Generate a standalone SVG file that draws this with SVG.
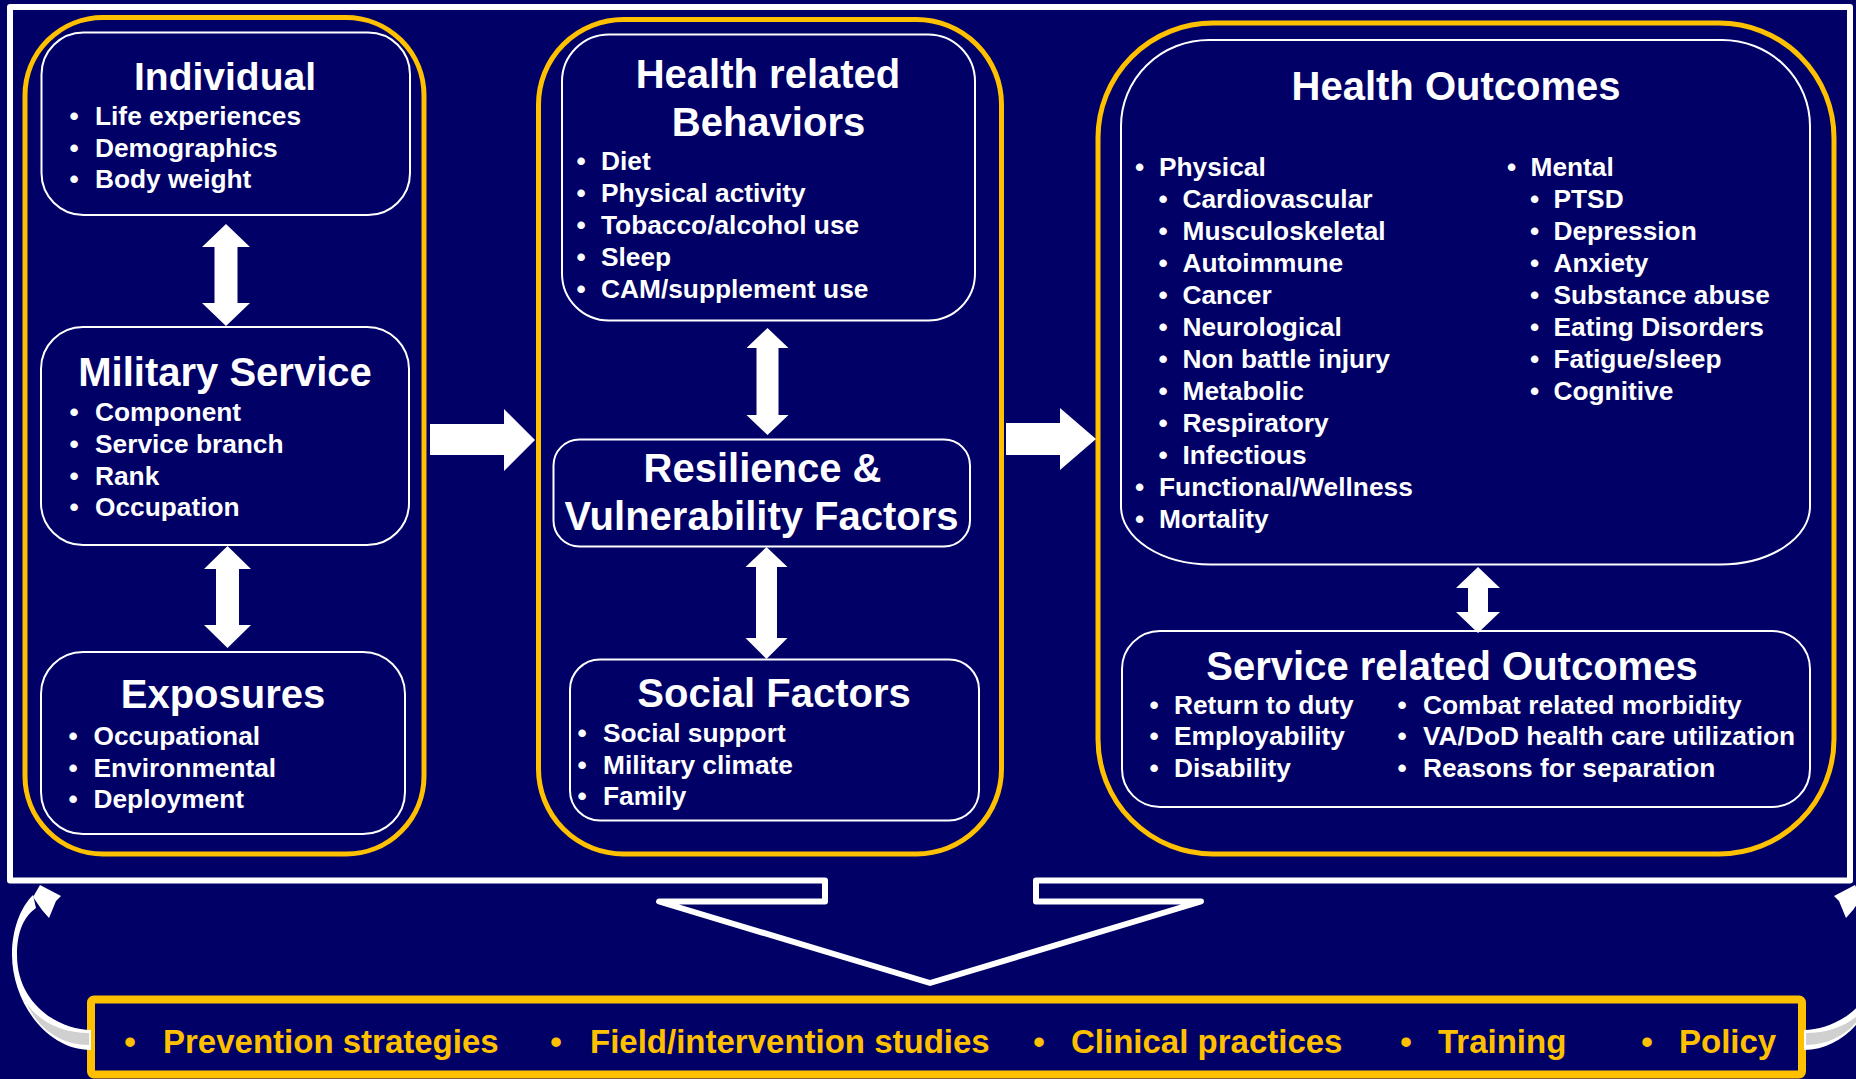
<svg xmlns="http://www.w3.org/2000/svg" width="1856" height="1079" viewBox="0 0 1856 1079">
<style>
.col{fill:none;stroke:#FFC000;stroke-width:5}
.box{fill:none;stroke:#FFFFFF;stroke-width:2}
text{font-family:"Liberation Sans",Arial,sans-serif;font-weight:bold;fill:#FFFFFF}
.h{font-size:40px;text-anchor:middle}
.i{font-size:26.3px}
.b{font-size:26.3px;text-anchor:middle}
.y{font-size:33px;fill:#FFC000}
.yb{font-size:33px;fill:#FFC000;text-anchor:middle}
.arr{fill:#FFFFFF}
</style>
<defs>
<g id="curved">
<path d="M33,895 C20,908 12,930 12,955 C12,1000 45,1050 91,1050 L91,1030 C60,1030 17,1005 17,955 C17,935 22,918 36,908 Z" fill="#FFFFFF"/>
<polygon points="40,885 61,896 56,901 49,918 42,910 33,897" fill="#FFFFFF"/>
<path d="M89,1033 C62,1033 40,1022 27,1004 C38,1028 60,1045 89,1045 Z" fill="#D0D0D0"/>
</g>
</defs>
<rect x="0" y="0" width="1856" height="1079" fill="#000066"/>

<g id="frame">
<path d="M10,7 H1850 V880.5 H1036 V901.5 H1201 L930,983 L659,901.5 H825 V880.5 H10 Z" fill="none" stroke="#FFFFFF" stroke-width="6" stroke-linejoin="round"/>
</g>

<g id="col-left">
<rect class="col" x="25" y="17.5" width="399" height="836.5" rx="78"/>
</g>
<g id="col-middle">
<rect class="col" x="538.5" y="19.5" width="463" height="834.5" rx="85"/>
</g>
<g id="col-right">
<rect class="col" x="1098" y="23" width="736" height="831" rx="115"/>
</g>

<g id="individual">
<rect class="box" x="41.5" y="32.5" width="368.5" height="182.5" rx="42"/>
<text class="h" x="225" y="90" style="font-size:39px">Individual</text>
<text class="b" x="74" y="125">•</text><text class="i" x="95" y="125">Life experiences</text>
<text class="b" x="74" y="157">•</text><text class="i" x="95" y="157">Demographics</text>
<text class="b" x="74" y="188">•</text><text class="i" x="95" y="188">Body weight</text>
</g>

<g id="military-service">
<rect class="box" x="41" y="327" width="368" height="218" rx="42"/>
<text class="h" x="225" y="386">Military Service</text>
<text class="b" x="74" y="421">•</text><text class="i" x="95" y="421">Component</text>
<text class="b" x="74" y="453">•</text><text class="i" x="95" y="453">Service branch</text>
<text class="b" x="74" y="484.5">•</text><text class="i" x="95" y="484.5">Rank</text>
<text class="b" x="74" y="516">•</text><text class="i" x="95" y="516">Occupation</text>
</g>

<g id="exposures">
<rect class="box" x="41" y="652" width="364" height="182" rx="42"/>
<text class="h" x="223" y="708">Exposures</text>
<text class="b" x="73" y="745">•</text><text class="i" x="93.5" y="745">Occupational</text>
<text class="b" x="73" y="777">•</text><text class="i" x="93.5" y="777">Environmental</text>
<text class="b" x="73" y="808">•</text><text class="i" x="93.5" y="808">Deployment</text>
</g>

<g id="health-behaviors">
<rect class="box" x="562" y="34.5" width="413" height="286" rx="47"/>
<text class="h" x="768" y="88">Health related</text>
<text class="h" x="768.5" y="136">Behaviors</text>
<text class="b" x="581" y="170">•</text><text class="i" x="601" y="170">Diet</text>
<text class="b" x="581" y="202">•</text><text class="i" x="601" y="202">Physical activity</text>
<text class="b" x="581" y="234">•</text><text class="i" x="601" y="234">Tobacco/alcohol use</text>
<text class="b" x="581" y="266">•</text><text class="i" x="601" y="266">Sleep</text>
<text class="b" x="581" y="298">•</text><text class="i" x="601" y="298">CAM/supplement use</text>
</g>

<g id="resilience">
<rect class="box" x="553.5" y="439.5" width="416.5" height="107" rx="26"/>
<text class="h" x="762.5" y="482">Resilience &amp;</text>
<text class="h" x="761.5" y="530">Vulnerability Factors</text>
</g>

<g id="social-factors">
<rect class="box" x="570" y="659.5" width="409" height="161" rx="30"/>
<text class="h" x="774" y="707">Social Factors</text>
<text class="b" x="582" y="742">•</text><text class="i" x="603" y="742">Social support</text>
<text class="b" x="582" y="773.5">•</text><text class="i" x="603" y="773.5">Military climate</text>
<text class="b" x="582" y="805">•</text><text class="i" x="603" y="805">Family</text>
</g>

<g id="health-outcomes">
<path class="box" d="M1209,40 H1722 A88,86 0 0 1 1810,126 V506.5 A90,58 0 0 1 1720,564.5 H1211 A90,58 0 0 1 1121,506.5 V126 A88,86 0 0 1 1209,40 Z"/>
<text class="h" x="1456" y="100">Health Outcomes</text>
<text class="b" x="1139.5" y="176">•</text><text class="i" x="1159" y="176">Physical</text>
<text class="b" x="1163" y="208">•</text><text class="i" x="1182.5" y="208">Cardiovascular</text>
<text class="b" x="1163" y="240">•</text><text class="i" x="1182.5" y="240">Musculoskeletal</text>
<text class="b" x="1163" y="272">•</text><text class="i" x="1182.5" y="272">Autoimmune</text>
<text class="b" x="1163" y="304">•</text><text class="i" x="1182.5" y="304">Cancer</text>
<text class="b" x="1163" y="336">•</text><text class="i" x="1182.5" y="336">Neurological</text>
<text class="b" x="1163" y="368">•</text><text class="i" x="1182.5" y="368">Non battle injury</text>
<text class="b" x="1163" y="400">•</text><text class="i" x="1182.5" y="400">Metabolic</text>
<text class="b" x="1163" y="432">•</text><text class="i" x="1182.5" y="432">Respiratory</text>
<text class="b" x="1163" y="464">•</text><text class="i" x="1182.5" y="464">Infectious</text>
<text class="b" x="1139.5" y="496">•</text><text class="i" x="1159" y="496">Functional/Wellness</text>
<text class="b" x="1139.5" y="528">•</text><text class="i" x="1159" y="528">Mortality</text>
<text class="b" x="1511.5" y="176">•</text><text class="i" x="1530.5" y="176">Mental</text>
<text class="b" x="1534.5" y="208">•</text><text class="i" x="1553.5" y="208">PTSD</text>
<text class="b" x="1534.5" y="240">•</text><text class="i" x="1553.5" y="240">Depression</text>
<text class="b" x="1534.5" y="272">•</text><text class="i" x="1553.5" y="272">Anxiety</text>
<text class="b" x="1534.5" y="304">•</text><text class="i" x="1553.5" y="304">Substance abuse</text>
<text class="b" x="1534.5" y="336">•</text><text class="i" x="1553.5" y="336">Eating Disorders</text>
<text class="b" x="1534.5" y="368">•</text><text class="i" x="1553.5" y="368">Fatigue/sleep</text>
<text class="b" x="1534.5" y="400">•</text><text class="i" x="1553.5" y="400">Cognitive</text>
</g>

<g id="service-outcomes">
<rect class="box" x="1122" y="631" width="688" height="176" rx="38"/>
<text class="h" x="1452" y="679.5">Service related Outcomes</text>
<text class="b" x="1154" y="713.5">•</text><text class="i" x="1174" y="713.5">Return to duty</text>
<text class="b" x="1154" y="745">•</text><text class="i" x="1174" y="745">Employability</text>
<text class="b" x="1154" y="777">•</text><text class="i" x="1174" y="777">Disability</text>
<text class="b" x="1402" y="713.5">•</text><text class="i" x="1423" y="713.5">Combat related morbidity</text>
<text class="b" x="1402" y="745">•</text><text class="i" x="1423" y="745">VA/DoD health care utilization</text>
<text class="b" x="1402" y="777">•</text><text class="i" x="1423" y="777">Reasons for separation</text>
</g>

<g id="applications">
<rect x="91" y="999.5" width="1711" height="75" rx="3" fill="#000066" stroke="#FFC000" stroke-width="8"/>
<text class="yb" x="130" y="1053">•</text><text class="y" x="163" y="1053">Prevention strategies</text>
<text class="yb" x="556" y="1053">•</text><text class="y" x="590" y="1053">Field/intervention studies</text>
<text class="yb" x="1039" y="1053">•</text><text class="y" x="1071" y="1053">Clinical practices</text>
<text class="yb" x="1406" y="1053">•</text><text class="y" x="1438" y="1053">Training</text>
<text class="yb" x="1647" y="1053">•</text><text class="y" x="1679" y="1053">Policy</text>
</g>

<g id="connectors">
<polygon class="arr" points="226,224 250,247 237.5,247 237.5,303 250,303 226,326 202,303 214.5,303 214.5,247 202,247"/>
<polygon class="arr" points="227.5,546 251,569 239,569 239,625 251,625 227.5,648 204,625 216,625 216,569 204,569"/>
<polygon class="arr" points="767.5,328 788.5,348 778.5,348 778.5,415 788.5,415 767.5,435 746.5,415 756.5,415 756.5,348 746.5,348"/>
<polygon class="arr" points="766.5,547 787.5,567 777,567 777,638 787.5,638 766.5,659 745.5,638 756,638 756,567 745.5,567"/>
<polygon class="arr" points="1478,567 1500,588 1488,588 1488,612 1500,612 1478,633 1456,612 1468,612 1468,588 1456,588"/>
<polygon class="arr" points="430,424 504,424 504,409 535,440 504,471 504,455 430,455"/>
<polygon class="arr" points="1006,423 1060,423 1060,408 1096,439 1060,470 1060,455 1006,455"/>
<use href="#curved"/>
<use href="#curved" transform="translate(1895,0) scale(-1,1)"/>
</g>
</svg>
